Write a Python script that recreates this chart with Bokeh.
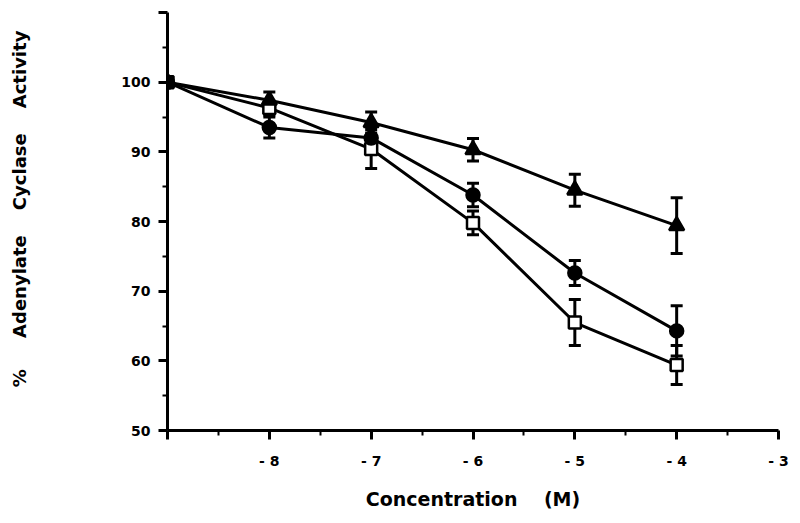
from bokeh.plotting import figure
from bokeh.models import FixedTicker, Whisker, ColumnDataSource, TeeHead, Range1d
from bokeh.embed import file_html
from bokeh.resources import INLINE

conc = [-9, -8, -7, -6, -5, -4]
triangle = [100, 97.4, 94.2, 90.3, 84.5, 79.4]
triangle_err = [0, 1.2, 1.5, 1.6, 2.3, 4.0]
circle = [100, 93.5, 92.0, 83.8, 72.6, 64.3]
circle_err = [0, 1.5, 1.8, 1.7, 1.8, 3.6]
square = [100, 96.3, 90.4, 79.8, 65.5, 59.4]
square_err = [0, 1.0, 2.8, 1.7, 3.3, 2.8]

x_ticks = [-9, -8, -7, -6, -5, -4, -3]
x_labels = {-9: "", -8: "- 8", -7: "- 7", -6: "- 6", -5: "- 5", -4: "- 4", -3: "- 3"}
y_ticks = [50, 60, 70, 80, 90, 100, 110]
y_labels = {110: ""}

FONT = "DejaVu Sans"
NB = "\u00a0"

p = figure(width=798, height=521, output_backend="svg", toolbar_location=None,
           x_range=Range1d(-9, -3), y_range=Range1d(50, 110),
           min_border_left=167, min_border_right=20, min_border_top=12, min_border_bottom=91)
p.grid.visible = False
p.outline_line_color = None

for ax in (p.xaxis[0], p.yaxis[0]):
    ax.axis_line_width = 3
    ax.axis_line_color = "black"
    ax.major_tick_line_width = 3
    ax.minor_tick_line_width = 2
    ax.major_tick_in = 0
    ax.minor_tick_in = 0
    ax.major_tick_out = 9
    ax.minor_tick_out = 5
    ax.major_label_text_font = FONT
    ax.major_label_text_font_style = "bold"
    ax.major_label_text_font_size = "14px"
    ax.major_label_text_color = "black"
    ax.axis_label_text_font = FONT
    ax.axis_label_text_font_style = "bold"
    ax.axis_label_text_color = "black"

p.xaxis[0].ticker = FixedTicker(ticks=x_ticks, minor_ticks=[-8.5, -7.5, -6.5, -5.5, -4.5, -3.5])
p.xaxis[0].major_label_overrides = x_labels
p.xaxis[0].major_label_standoff = 13
p.xaxis[0].axis_label = "Concentration" + NB * 4 + "(M)"
p.xaxis[0].axis_label_text_font_size = "19px"
p.xaxis[0].axis_label_standoff = 16

p.yaxis[0].ticker = FixedTicker(ticks=y_ticks, minor_ticks=[55, 65, 75, 85, 95, 105])
p.yaxis[0].major_label_overrides = y_labels
p.yaxis[0].major_label_standoff = 8
p.yaxis[0].axis_label = NB * 4 + "%" + NB * 5 + "Adenylate" + NB * 4 + "Cyclase" + NB * 4 + "Activity"
p.yaxis[0].axis_label_text_font_size = "18px"
p.yaxis[0].axis_label_standoff = 88


def add_series(vals, errs, marker, size, fill):
    src = ColumnDataSource(dict(x=conc, y=vals))
    ex = [c for c, e in zip(conc, errs) if e > 0]
    up = [v + e for v, e in zip(vals, errs) if e > 0]
    lo = [v - e for v, e in zip(vals, errs) if e > 0]
    wsrc = ColumnDataSource(dict(x=ex, upper=up, lower=lo))
    w = Whisker(base="x", upper="upper", lower="lower", source=wsrc,
                line_width=3, line_color="black",
                upper_head=TeeHead(size=12, line_width=3, line_color="black"),
                lower_head=TeeHead(size=12, line_width=3, line_color="black"))
    w.level = "underlay"
    p.add_layout(w)
    p.line("x", "y", source=src, line_width=3, line_color="black")
    p.scatter("x", "y", source=src, marker=marker, size=size,
              fill_color=fill, line_color="black", line_width=2.5)


add_series(square, square_err, "square", 12, "white")
add_series(circle, circle_err, "circle", 13, "black")
add_series(triangle, triangle_err, "triangle", 15, "black")

open("out.html", "w").write(file_html(p, INLINE))
